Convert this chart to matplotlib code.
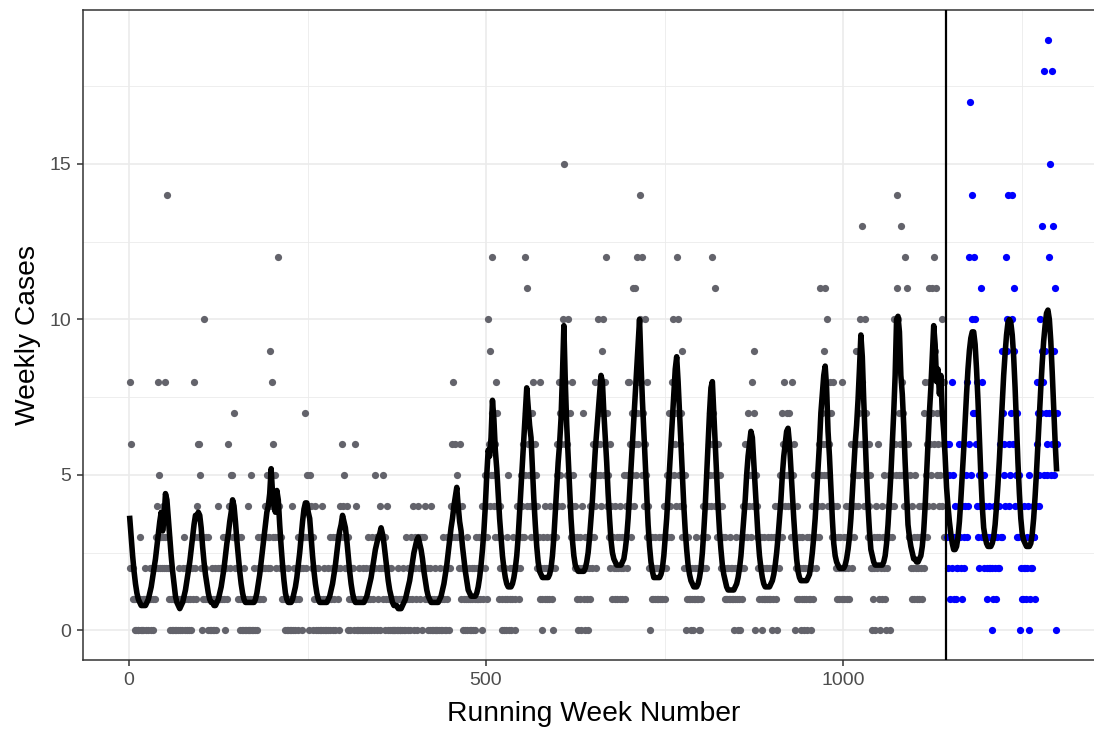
import numpy as np
import matplotlib
matplotlib.use("Agg")
import matplotlib.pyplot as plt

# weekly case counts, one character per week
# (base 36: '0'-'9', 'a' = 10, 'b' = 11, ...), one 52-week season per string
train_cases = [
    "8262211100100" "1310010112010" "1121021021234" "2853232432832",
    "e321021010101" "0110210102130" "1201201202318" "3214636532031",
    "a213130101020" "1012012412121" "3210321364245" "5337233231201",
    "3010201010401" "0501021010231" "2132123424532" "3294836435243",
    "c432312121010" "2010104102101" "2031232032373" "2534053420314",
    "2010210104102" "0101201301203" "1203213042363" "4523240312012",
    "2106140102101" "0201012013012" "0312052301320" "4231520314201",
    "1020100101020" "1001012010310" "2102314203210" "3423123023142",
    "1201024010102" "0101012010310" "2031203246384" "6345342631420",
    "1201301201021" "0210312132120" "41352413a6495" "7c54638473142",
    "3012012013502" "1021320124231" "42534635c74b6" "5463758463524",
    "2318201321421" "3214231203423" "564857647af86" "756a547384532",
    "4231023104271" "3021302413256" "384256a756497" "a586c47536243",
    "1321423123142" "1325134258846" "357b4b65c768e" "a7c5746a58342",
    "3021312132121" "3212312413245" "3745386a5764c" "7a56473942530",
    "2131210210121" "3121020132423" "4253467546c75" "b465364532423",
    "2131212131212" "1021312012032" "1423643574653" "8549705342312",
    "3102131212312" "1302132413042" "3547365846754" "7653845360241",
    "2312031210213" "0213104215342" "53463b547659b" "65a4658734834",
    "3241321328123" "1241321436245" "364956475a6d8" "654a765364520",
    "2132042361302" "4132510324350" "4356a465bea75" "6d85746c5b463",
    "3521423152312" "4132143728536" "4b865b74c69b5" "764857a463856",
]
test_cases = [
    "6326513825134" "1223463214632" "45384c6h5ae7c" "7a6483524b835",
    "5243123242302" "1342134224633" "97564ca9e4657" "ea6b945373540",
    "2131242132405" "1232433146875" "4a7d985i9756j" "c7f5i6d59b076",
]

# fitted weekly cases (x10), read every second week, 26 values per season
train_fit = [
    [36, 30, 24, 19, 15, 12, 10, 9, 8, 8, 8, 8, 9, 10, 12, 14, 17, 20, 23, 27, 31, 35, 38, 32, 36, 44],
    [42, 36, 30, 24, 19, 15, 11, 9, 8, 7, 8, 9, 11, 13, 16, 19, 22, 26, 30, 34, 37, 36, 38, 37, 33, 27],
    [22, 18, 15, 12, 10, 9, 9, 8, 8, 9, 10, 12, 14, 17, 20, 24, 28, 31, 35, 38, 42, 40, 35, 29, 24, 19],
    [15, 12, 10, 9, 9, 9, 9, 9, 9, 9, 10, 12, 15, 18, 22, 26, 30, 34, 38, 40, 44, 52, 44, 40, 38, 45],
    [42, 34, 27, 21, 16, 12, 10, 9, 9, 9, 10, 12, 14, 17, 21, 25, 30, 35, 39, 41, 41, 38, 36, 30, 24, 19],
    [15, 12, 10, 9, 9, 9, 9, 9, 9, 10, 11, 13, 15, 18, 21, 25, 29, 32, 34, 37, 35, 33, 29, 24, 19, 15],
    [12, 10, 9, 9, 9, 9, 9, 9, 9, 10, 11, 13, 15, 17, 20, 23, 26, 28, 30, 31, 33, 31, 28, 24, 20, 16],
    [13, 11, 9, 8, 8, 8, 7, 7, 7, 8, 9, 10, 12, 14, 16, 19, 22, 25, 27, 29, 30, 28, 26, 23, 19, 16],
    [13, 11, 10, 9, 9, 9, 9, 9, 9, 10, 11, 13, 15, 18, 21, 25, 29, 33, 36, 40, 43, 46, 40, 35, 32, 27],
    [23, 19, 16, 13, 12, 11, 11, 11, 11, 12, 14, 17, 21, 26, 32, 40, 50, 58, 56, 62, 74, 68, 58, 52, 44, 36],
    [30, 24, 20, 17, 15, 14, 14, 14, 15, 17, 20, 24, 30, 38, 46, 54, 62, 70, 78, 72, 66, 62, 52, 42, 34, 27],
    [22, 19, 18, 17, 17, 17, 17, 17, 18, 20, 24, 30, 38, 46, 54, 60, 68, 82, 98, 80, 66, 56, 46, 36, 29, 24],
    [21, 20, 19, 19, 19, 19, 19, 20, 22, 25, 30, 36, 42, 50, 58, 64, 70, 76, 82, 80, 70, 62, 54, 44, 36, 29],
    [25, 23, 22, 21, 21, 21, 21, 22, 23, 26, 30, 36, 44, 52, 60, 68, 76, 84, 92, 100, 86, 74, 64, 54, 44, 34],
    [27, 22, 19, 17, 17, 17, 17, 17, 18, 20, 24, 30, 36, 44, 52, 60, 68, 76, 84, 88, 80, 70, 60, 50, 40, 32],
    [26, 21, 18, 16, 15, 14, 14, 14, 15, 17, 20, 25, 32, 40, 50, 60, 70, 78, 80, 70, 60, 50, 40, 32, 26, 21],
    [18, 16, 14, 13, 13, 13, 13, 13, 14, 15, 17, 20, 24, 30, 36, 42, 50, 56, 60, 64, 62, 54, 46, 38, 30, 24],
    [20, 17, 15, 14, 14, 14, 14, 15, 16, 18, 21, 25, 30, 36, 42, 50, 56, 60, 64, 65, 60, 52, 44, 36, 29, 23],
    [19, 17, 16, 16, 16, 16, 16, 17, 18, 21, 25, 30, 36, 44, 52, 60, 70, 76, 82, 85, 78, 64, 56, 46, 36, 28],
    [24, 22, 21, 20, 20, 20, 20, 21, 23, 26, 30, 36, 44, 52, 60, 66, 74, 84, 95, 88, 74, 62, 50, 40, 32, 26],
    [24, 22, 21, 21, 21, 21, 21, 21, 22, 24, 28, 34, 42, 50, 60, 70, 82, 100, 101, 96, 82, 76, 66, 54, 44, 34],
    [30, 27, 25, 23, 23, 22, 22, 23, 24, 27, 32, 40, 50, 60, 70, 78, 88, 98, 92, 80, 84, 76, 82, 70, 64, 56],
]
test_fit = [
    [46, 40, 35, 31, 28, 26, 26, 27, 30, 35, 42, 50, 58, 67, 76, 84, 90, 94, 96, 96, 92, 84, 74, 62, 50, 40],
    [33, 30, 28, 27, 27, 27, 28, 30, 34, 40, 47, 55, 64, 73, 82, 89, 95, 99, 100, 99, 95, 88, 78, 66, 54, 44],
    [36, 31, 29, 28, 27, 27, 27, 28, 31, 36, 43, 51, 60, 69, 78, 86, 93, 98, 102, 103, 100, 93, 83, 72, 61, 52],
]

split_week = 1144.5
x_ticks = [0, 500, 1000]
y_ticks = [0, 5, 10, 15]

train_y = np.array([int(c, 36) for c in "".join(train_cases)])
test_y = np.array([int(c, 36) for c in "".join(test_cases)])
train_x = np.arange(1, len(train_y) + 1)
test_x = np.arange(len(train_y) + 1, len(train_y) + len(test_y) + 1)

fit_y = np.array([v for s in train_fit + test_fit for v in s]) / 10.0
fit_x = 1 + 2 * np.arange(len(fit_y))

plt.rcParams['font.family'] = ['Liberation Sans', 'DejaVu Sans']

fig = plt.figure(figsize=(10.94, 7.29), dpi=100)
ax = fig.add_axes([0.0762, 0.0947, 0.9326, 0.8916])

ax.scatter(train_x, train_y, s=27, color='#63636b', linewidths=0, zorder=3)
ax.scatter(test_x, test_y, s=27, color='#0000ff', linewidths=0, zorder=3)
ax.plot(fit_x, fit_y, color='black', lw=4.0, solid_joinstyle='round', zorder=4)
ax.axvline(split_week, color='black', lw=1.6, zorder=5)

ax.set_xlim(-64, 1365)
ax.set_ylim(-0.95, 19.95)
ax.set_xticks(x_ticks)
ax.set_yticks(y_ticks)
ax.set_xticks([250, 750, 1250], minor=True)
ax.set_yticks([2.5, 7.5, 12.5, 17.5], minor=True)
ax.grid(which='major', color='#ebebeb', lw=1.2, zorder=0)
ax.grid(which='minor', color='#ebebeb', lw=0.6, zorder=0)
ax.set_axisbelow(True)
ax.tick_params(which='major', length=4.5, width=1.1, color='#333333',
               labelsize=14, labelcolor='#4d4d4d', pad=4)
ax.tick_params(which='minor', length=0)
for sp in ax.spines.values():
    sp.set_color('#333333')
    sp.set_linewidth(1.1)

ax.set_xlabel('Running Week Number', fontsize=20.3, labelpad=9)
ax.set_ylabel('Weekly Cases', fontsize=20.3, labelpad=6)

fig.savefig('out.png', dpi=100)
